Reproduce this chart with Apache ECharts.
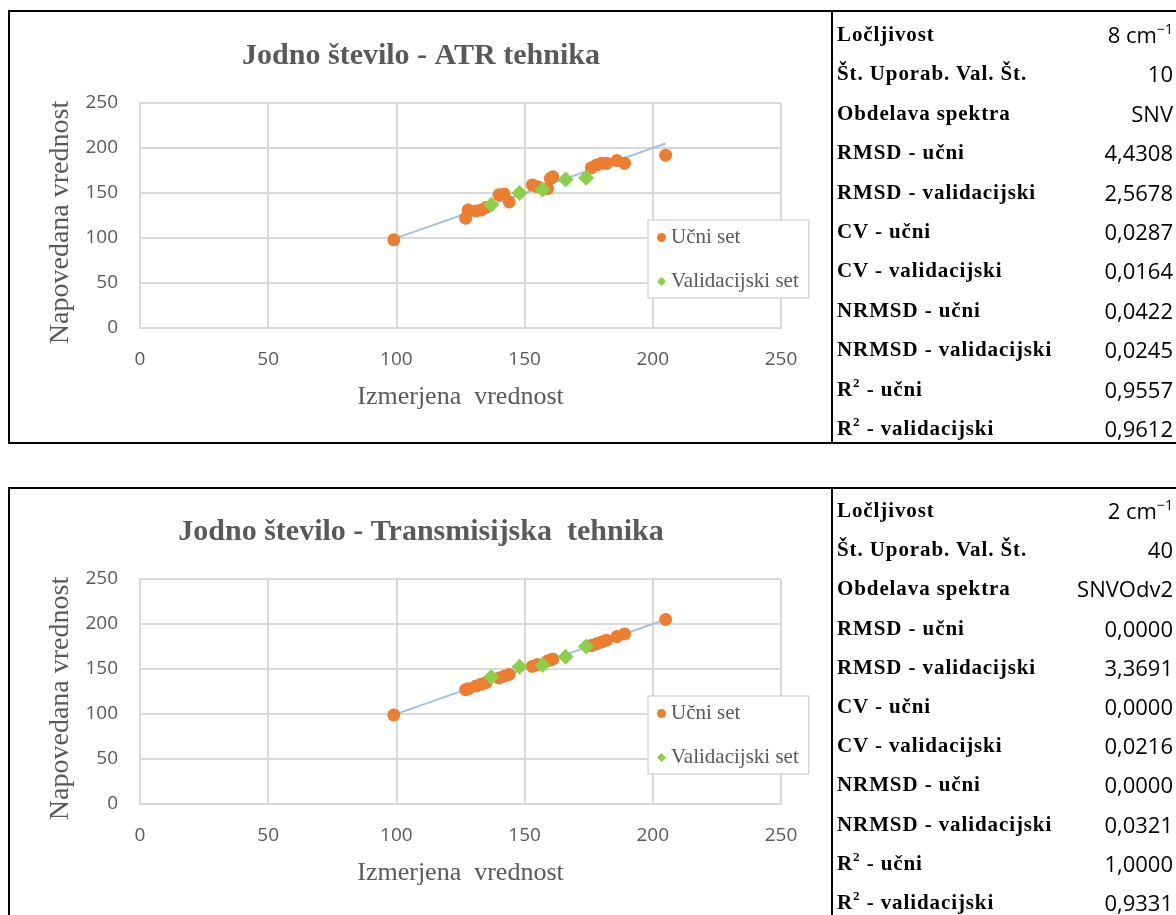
<!DOCTYPE html>
<html>
<head>
<meta charset="utf-8">
<script src="https://cdn.jsdelivr.net/npm/echarts@6/dist/echarts.min.js"></script>
<style>
  html, body { margin: 0; padding: 0; background: #fff; }
  body { width: 1176px; height: 915px; overflow: hidden; position: relative; }
  #chart { position: absolute; left: 0; top: 0; width: 1176px; height: 915px; }
  .frame { position: absolute; border: 2px solid #000; box-sizing: border-box; pointer-events: none; }
  .divider { position: absolute; width: 2px; background: #000; pointer-events: none; }
  .row { position: absolute; left: 837px; width: 336px; height: 30px; line-height: 30px; pointer-events: none; }
  .row .lbl { position: absolute; left: 0; top: 0; font-family: "Liberation Serif", serif; font-weight: bold;
              font-size: 21px; letter-spacing: 0.9px; color: #000; white-space: nowrap; }
  .row .val { position: absolute; right: 0; top: 0; font-family: "Open Sans", sans-serif; font-size: 22px;
              color: #000; white-space: nowrap; }
  .lbl sup { font-size: 13px; line-height: 0; vertical-align: 9px; }
  .val sup { font-size: 14px; line-height: 0; vertical-align: 9px; }
</style>
</head>
<body>
<div id="chart"></div>
<div id="overlay"></div>
<script>
// Axis ticks shared by both scatter plots
const axisTicks = [0, 50, 100, 150, 200, 250];

// Training set: measured value and model prediction
const trainMeasured       = [99, 127, 128, 131, 133, 135, 140, 142, 144, 153, 155, 159, 160, 161, 176, 178, 180, 182, 186, 189, 205];
const atrTrainPredicted   = [98, 122, 131, 130, 131, 134, 148, 149, 140, 159, 157, 155, 166, 168, 178, 181, 183, 183, 186, 183, 192];
const transTrainPredicted = [99, 127, 128, 131, 133, 135, 140, 142, 144, 153, 155, 159, 160, 161, 176, 178, 180, 182, 186, 189, 205];

// Validation set: measured value and model prediction
const validMeasured       = [137, 148, 157, 166, 174];
const atrValidPredicted   = [137, 150, 154, 165, 167];
const transValidPredicted = [141, 152.5, 154.5, 163.5, 175];

// Ideal-fit line (predicted = measured) over the measured range
const trendRange = [99, 205];

// Model statistics shown beside each plot
const statLabels = ['Ločljivost', 'Št. Uporab. Val. Št.', 'Obdelava spektra', 'RMSD - učni', 'RMSD - validacijski',
  'CV - učni', 'CV - validacijski', 'NRMSD - učni', 'NRMSD - validacijski', 'R² - učni', 'R² - validacijski'];
const atrStats   = ['8 cm⁻¹', '10', 'SNV', '4,4308', '2,5678', '0,0287', '0,0164', '0,0422', '0,0245', '0,9557', '0,9612'];
const transStats = ['2 cm⁻¹', '40', 'SNVOdv2', '0,0000', '3,3691', '0,0000', '0,0216', '0,0000', '0,0321', '1,0000', '0,9331'];

const titles = ['Jodno število - ATR tehnika', 'Jodno število - Transmisijska  tehnika'];
const xName = 'Izmerjena  vrednost';
const yName = 'Napovedana vrednost';
const trainName = 'Učni set';
const validName = 'Validacijski set';

const GREY = '#595959';
const GRIDC = '#d9d9d9';
const ORANGE = '#ED7D31';
const GREEN = '#8CCF4B';
const TREND = '#9DC3E6';

const zip = (a, b) => a.map((v, i) => [v, b[i]]);

// Layout of the two panels
const panels = [
  { top: 10, height: 434, gridTop: 103, titleY: 41, legendTop: 220, rowY0: 34, rowStep: 39.4, stats: atrStats,
    train: atrTrainPredicted, valid: atrValidPredicted },
  { top: 487, height: 440, gridTop: 579, titleY: 517, legendTop: 696, rowY0: 510, rowStep: 39.2, stats: transStats,
    train: transTrainPredicted, valid: transValidPredicted }
];

const option = {
  backgroundColor: '#fff',
  animation: false,
  title: panels.map((p, i) => ({
    text: titles[i], left: 421, top: p.titleY, textAlign: 'center', padding: 0,
    textStyle: { fontFamily: 'Liberation Serif', fontWeight: 'bold', fontSize: 30, color: GREY }
  })),
  legend: panels.map(p => ({
    orient: 'vertical', left: 648, top: p.legendTop,
    padding: [7, 10, 6, 9], itemGap: 23, itemWidth: 9, itemHeight: 9,
    borderColor: GRIDC, borderWidth: 1.5, backgroundColor: '#fff',
    textStyle: { fontFamily: 'Liberation Serif', fontSize: 21, color: GREY },
    data: [{ name: trainName, icon: 'circle' }, { name: validName, icon: 'diamond' }],
    selectedMode: false
  })),
  grid: panels.map(p => ({ left: 140, top: p.gridTop, width: 641, height: 225 })),
  xAxis: panels.map((p, i) => ({
    type: 'value', gridIndex: i,
    min: axisTicks[0], max: axisTicks[axisTicks.length - 1], interval: axisTicks[1] - axisTicks[0],
    axisLine: { show: true, onZero: false, lineStyle: { color: GRIDC, width: 2 } },
    axisTick: { show: false },
    splitLine: { show: true, lineStyle: { color: GRIDC, width: 2 } },
    axisLabel: { color: GREY, fontFamily: 'Open Sans', fontSize: 19, margin: 22 },
    name: xName, nameLocation: 'middle', nameGap: 56,
    nameTextStyle: { fontFamily: 'Liberation Serif', fontSize: 26, color: GREY }
  })),
  yAxis: panels.map((p, i) => ({
    type: 'value', gridIndex: i,
    min: axisTicks[0], max: axisTicks[axisTicks.length - 1], interval: axisTicks[1] - axisTicks[0],
    axisLine: { show: true, lineStyle: { color: GRIDC, width: 2 } },
    axisTick: { show: false },
    splitLine: { show: true, lineStyle: { color: GRIDC, width: 2 } },
    axisLabel: { color: GREY, fontFamily: 'Open Sans', fontSize: 19, margin: 22 },
    name: yName, nameLocation: 'middle', nameGap: 62,
    nameTextStyle: { fontFamily: 'Liberation Serif', fontSize: 28, color: GREY, padding: [0, 14, 0, 0] }
  })),
  series: panels.flatMap((p, i) => [
    {
      type: 'line', xAxisIndex: i, yAxisIndex: i, data: zip(trendRange, trendRange),
      symbol: 'none', lineStyle: { color: TREND, width: 2 }, silent: true, z: 1
    },
    {
      name: trainName, type: 'scatter', xAxisIndex: i, yAxisIndex: i,
      data: zip(trainMeasured, p.train), symbol: 'circle', symbolSize: 13,
      itemStyle: { color: ORANGE, opacity: 1 }, z: 2
    },
    {
      name: validName, type: 'scatter', xAxisIndex: i, yAxisIndex: i,
      data: zip(validMeasured, p.valid), symbol: 'diamond', symbolSize: 16,
      itemStyle: { color: GREEN, opacity: 1 }, z: 3
    }
  ])
};

const chart = echarts.init(document.getElementById('chart'), null, { renderer: 'canvas' });
chart.setOption(option);

// Frames and statistics tables
const overlay = document.getElementById('overlay');
const fmt = s => s.replace('²', '<sup>2</sup>').replace('⁻¹', '<sup>−1</sup>');
panels.forEach(p => {
  const f = document.createElement('div');
  f.className = 'frame';
  f.style.cssText = `left:8px;top:${p.top}px;width:1176px;height:${p.height}px;`;
  overlay.appendChild(f);
  const d = document.createElement('div');
  d.className = 'divider';
  d.style.cssText = `left:831px;top:${p.top}px;height:${p.height}px;`;
  overlay.appendChild(d);
  statLabels.forEach((lbl, r) => {
    const row = document.createElement('div');
    row.className = 'row';
    row.style.top = (p.rowY0 + r * p.rowStep - 15) + 'px';
    row.innerHTML = `<span class="lbl">${fmt(lbl)}</span><span class="val">${fmt(p.stats[r])}</span>`;
    overlay.appendChild(row);
  });
});
</script>
</body>
</html>
